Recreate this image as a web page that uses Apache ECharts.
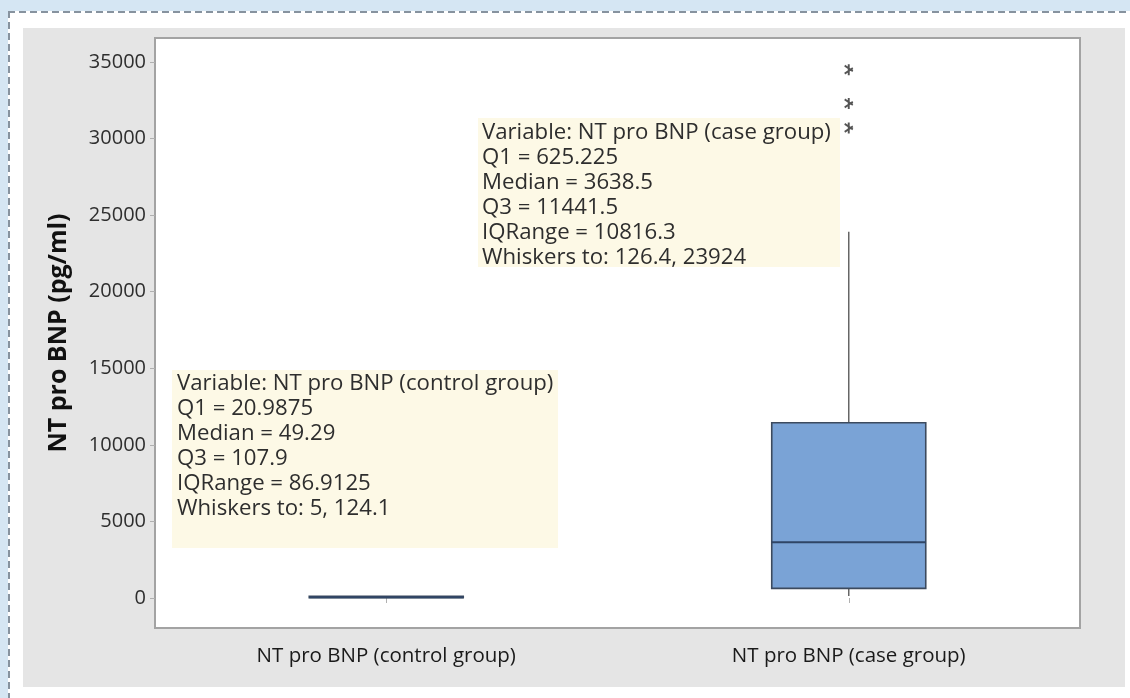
<!DOCTYPE html>
<html><head><meta charset="utf-8">
<script src="https://cdn.jsdelivr.net/npm/echarts@6/dist/echarts.min.js"></script>
<style>
html,body{margin:0;padding:0;width:1130px;height:698px;overflow:hidden;background:#d5e6f3;}
#frame{position:absolute;left:8px;top:11px;width:1130px;height:700px;background:#fff;}
#dashTop{position:absolute;left:8px;top:11px;width:1130px;height:2px;background:repeating-linear-gradient(to right,#87939f 0 7px,transparent 7px 11px);}
#dashLeft{position:absolute;left:8px;top:11px;width:2px;height:700px;background:repeating-linear-gradient(to bottom,#87939f 0 7px,transparent 7px 11px);}
#panel{position:absolute;left:23px;top:28px;width:1102px;height:659px;background:#e5e5e5;}
#chart{position:absolute;left:0;top:0;width:1130px;height:698px;}
</style></head><body>
<div id="frame"></div><div id="dashTop"></div><div id="dashLeft"></div><div id="panel"></div><div id="chart"></div>
<script>
const categories = ['NT pro BNP (control group)', 'NT pro BNP (case group)'];
// [category index, whisker low, Q1, median, Q3, whisker high]
const boxStats = [
  [0, 5, 20.9875, 49.29, 107.9, 124.1],
  [1, 126.4, 625.225, 3638.5, 11441.5, 23924]
];
const outliers = [[1, 34500], [1, 32300], [1, 30700]];
const yTicks = [0, 5000, 10000, 15000, 20000, 25000, 30000, 35000];
const controlNote = ['Variable: NT pro BNP (control group)', 'Q1 = 20.9875', 'Median = 49.29', 'Q3 = 107.9', 'IQRange = 86.9125', 'Whiskers to: 5, 124.1'];
const caseNote = ['Variable: NT pro BNP (case group)', 'Q1 = 625.225', 'Median = 3638.5', 'Q3 = 11441.5', 'IQRange = 10816.3', 'Whiskers to: 126.4, 23924'];

const FONT = '"Open Sans", "Noto Sans", sans-serif';
const chart = echarts.init(document.getElementById('chart'));
const asterisk = 'path://M4,0h2v10h-2z M0.3,2.2l0.9,-1.6l8.5,5l-0.9,1.6z M0.3,7.8l8.5,-5l0.9,1.6l-8.5,5z';

chart.setOption({
  animation: false,
  grid: {left: 155, right: 50, top: 38, bottom: 70, show: true, backgroundColor: '#fff', borderColor: '#a3a3a3', borderWidth: 2},
  xAxis: {
    type: 'category', data: categories, boundaryGap: true,
    axisLine: {show: false},
    axisTick: {show: true, alignWithLabel: true, length: 5, lineStyle: {color: '#b0b0b0'}},
    axisLabel: {fontSize: 20.5, color: '#1a1a1a', margin: 18, fontFamily: FONT}
  },
  yAxis: {
    type: 'value', min: -1960, max: 36570,
    splitLine: {show: false},
    axisLine: {show: false},
    axisTick: {show: true, length: 5, customValues: yTicks, lineStyle: {color: '#b0b0b0'}},
    axisLabel: {customValues: yTicks, fontSize: 20, color: '#2e2e2e', margin: 9, fontFamily: FONT,
      formatter: function (v) { return String(v); }},
    name: 'NT pro BNP (pg/ml)', nameLocation: 'middle', nameGap: 84,
    nameTextStyle: {fontSize: 25, fontWeight: 'bold', color: '#111', fontFamily: FONT}
  },
  series: [
    {
      type: 'custom',
      data: boxStats,
      encode: {x: 0, y: [1, 2, 3, 4, 5]},
      renderItem: function (params, api) {
        const c = api.value(0);
        const lo = api.coord([c, api.value(1)]);
        const q1 = api.coord([c, api.value(2)]);
        const md = api.coord([c, api.value(3)]);
        const q3 = api.coord([c, api.value(4)]);
        const hi = api.coord([c, api.value(5)]);
        const w = api.size([1, 0])[0] * 0.333;
        const x0 = lo[0] - w / 2;
        return {
          type: 'group',
          children: [
            {type: 'line', shape: {x1: lo[0], y1: lo[1], x2: q1[0], y2: q1[1]}, style: {stroke: '#666', lineWidth: 1.5}},
            {type: 'line', shape: {x1: q3[0], y1: q3[1], x2: hi[0], y2: hi[1]}, style: {stroke: '#666', lineWidth: 1.5}},
            {type: 'rect', shape: {x: x0, y: q3[1], width: w, height: q1[1] - q3[1]}, style: {fill: '#7aa3d6', stroke: '#3c4a5e', lineWidth: 1.6}},
            {type: 'line', shape: {x1: x0, y1: md[1], x2: x0 + w, y2: md[1]}, style: {stroke: '#2f4566', lineWidth: 2.2}}
          ]
        };
      }
    },
    {
      type: 'scatter', data: outliers, symbol: asterisk, symbolSize: [9, 11],
      itemStyle: {color: '#2a2a2a'}
    }
  ],
  graphic: [
    {type: 'rect', z: 100, shape: {x: 172, y: 370, width: 386, height: 178}, style: {fill: '#fdf9e6'}},
    {type: 'text', z: 101, x: 177, y: 371, style: {text: controlNote.join('\n'), fontSize: 22.2, lineHeight: 25, fill: '#2e2e2e', fontFamily: FONT}},
    {type: 'rect', z: 100, shape: {x: 478, y: 118, width: 362, height: 149}, style: {fill: '#fdf9e6'}},
    {type: 'text', z: 101, x: 482, y: 120, style: {text: caseNote.join('\n'), fontSize: 22.2, lineHeight: 25, fill: '#2e2e2e', fontFamily: FONT}}
  ]
});
</script>
</body></html>
